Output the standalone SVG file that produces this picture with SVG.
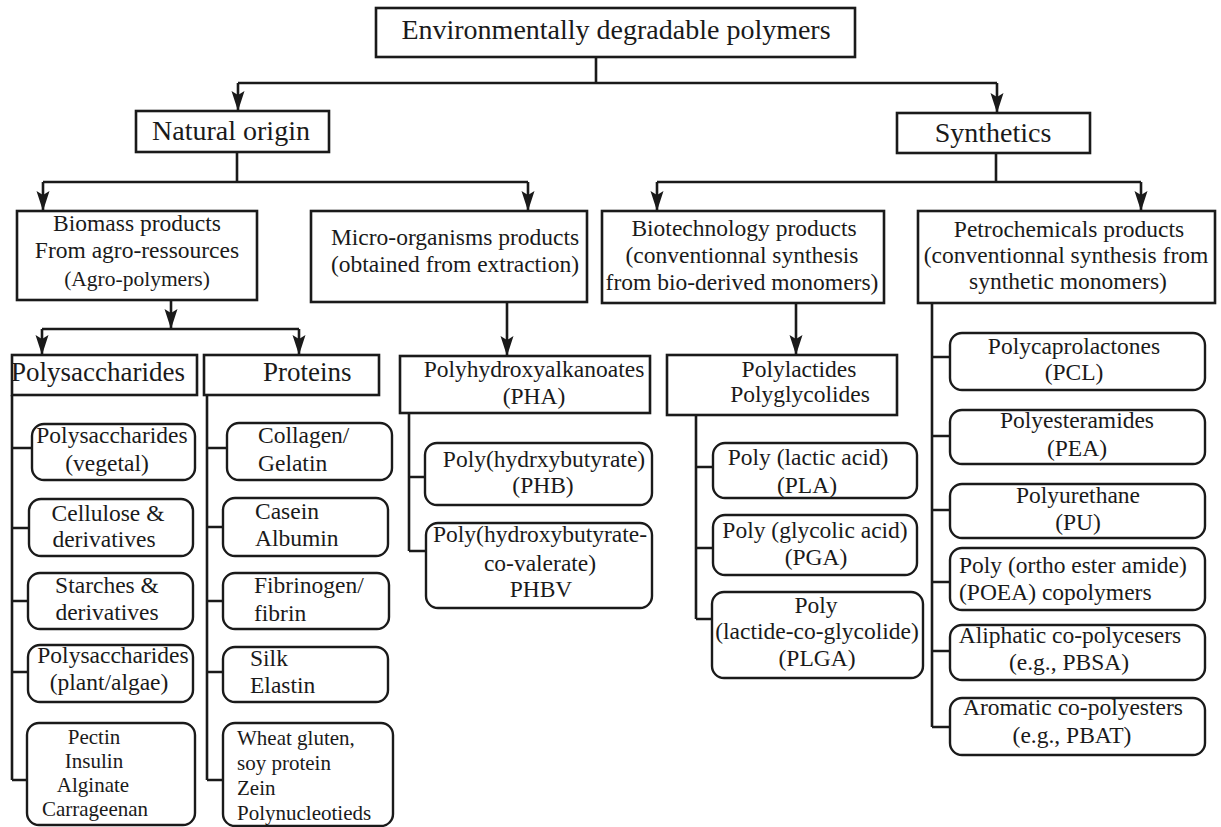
<svg xmlns="http://www.w3.org/2000/svg" width="1221" height="827" viewBox="0 0 1221 827">
<style>
.bx{fill:#fff;stroke:#1a1a1a;stroke-width:2.6}
.rb{fill:#fff;stroke:#1a1a1a;stroke-width:2.4}
.ln{fill:none;stroke:#1a1a1a;stroke-width:2.6}
text{font-family:"Liberation Serif","Times New Roman",serif;fill:#1a1a1a;font-size:23.5px;text-anchor:middle}
.h{font-size:28px}
.h2{font-size:27px}
.s{font-size:21.5px}
.t{font-size:21px}
.l{text-anchor:start}
</style>
<defs>
<marker id="ah" markerUnits="userSpaceOnUse" markerWidth="22" markerHeight="16" viewBox="-21 -8 22 16" refX="0" refY="0" orient="auto">
<path d="M0,0 L-20,-6.5 L-16,0 L-20,6.5 Z" fill="#1a1a1a"/>
</marker>
</defs>
<g id="connectors">
<path class="ln" d="M596,57 V83 M238,83 H997"/>
<path class="ln" d="M238,83 V111" marker-end="url(#ah)"/>
<path class="ln" d="M997,83 V113" marker-end="url(#ah)"/>
<path class="ln" d="M237,152 V182 M43,182 H528"/>
<path class="ln" d="M43,182 V211" marker-end="url(#ah)"/>
<path class="ln" d="M528,182 V211" marker-end="url(#ah)"/>
<path class="ln" d="M996,153 V182 M657,182 H1141"/>
<path class="ln" d="M657,182 V211" marker-end="url(#ah)"/>
<path class="ln" d="M1141,182 V211" marker-end="url(#ah)"/>
<path class="ln" d="M171,300 V329" marker-end="url(#ah)"/>
<path class="ln" d="M42,329 H299"/>
<path class="ln" d="M42,329 V355" marker-end="url(#ah)"/>
<path class="ln" d="M299,329 V355" marker-end="url(#ah)"/>
<path class="ln" d="M507,302 V356" marker-end="url(#ah)"/>
<path class="ln" d="M796,303 V355" marker-end="url(#ah)"/>
<path class="ln" d="M12,395 V780 M12,448 H32 M12,528 H29 M12,601 H28 M12,672 H28 M12,780 H27"/>
<path class="ln" d="M207,395 V780 M207,448 H227 M207,527 H223 M207,601 H223 M207,672 H223 M207,780 H223"/>
<path class="ln" d="M409,413 V551 M409,477 H425 M409,551 H426"/>
<path class="ln" d="M696,415 V619 M696,467 H713 M696,548 H713 M696,619 H712"/>
<path class="ln" d="M932,303 V727 M932,357 H950 M932,436 H950 M932,510 H950 M932,582 H950 M932,651 H950 M932,727 H950"/>
</g>
<g id="root"><rect class="bx" x="376" y="8" width="479" height="49"/><text class="h" x="616" y="39">Environmentally degradable polymers</text></g>
<g id="natural"><rect class="bx" x="136" y="111" width="193" height="41"/><text class="h" x="231" y="140">Natural origin</text></g>
<g id="synthetics"><rect class="bx" x="897" y="113" width="193" height="40"/><text class="h" x="993" y="142">Synthetics</text></g>
<g id="biomass"><rect class="bx" x="17" y="211" width="240" height="89"/><text x="137" y="231">Biomass products</text><text x="137" y="258">From agro-ressources</text><text class="s" x="137" y="286">(Agro-polymers)</text></g>
<g id="micro"><rect class="bx" x="311" y="211" width="276" height="91"/><text x="455" y="245">Micro-organisms products</text><text x="455" y="272">(obtained from extraction)</text></g>
<g id="biotech"><rect class="bx" x="602" y="211" width="282" height="92"/><text x="744" y="236">Biotechnology products</text><text x="742" y="263">(conventionnal synthesis</text><text x="742" y="290">from bio-derived monomers)</text></g>
<g id="petro"><rect class="bx" x="918" y="211" width="297" height="92"/><text x="1069" y="237">Petrochemicals products</text><text x="1066" y="263">(conventionnal synthesis from</text><text x="1068" y="289">synthetic monomers)</text></g>
<g id="polysaccharides"><rect class="bx" x="12" y="355" width="185" height="40"/><text class="h2 l" x="11" y="381">Polysaccharides</text></g>
<g id="proteins"><rect class="bx" x="204" y="355" width="175" height="40"/><text class="h2 l" x="263" y="381">Proteins</text></g>
<g id="pha"><rect class="bx" x="400" y="356" width="250" height="57"/><text x="534" y="377">Polyhydroxyalkanoates</text><text x="534" y="404">(PHA)</text></g>
<g id="polylactides"><rect class="bx" x="667" y="355" width="230" height="60"/><text x="799" y="377">Polylactides</text><text x="800" y="402">Polyglycolides</text></g>
<g id="ps-vegetal"><rect class="rb" x="32" y="424" width="163" height="56" rx="12"/><text x="112" y="443">Polysaccharides</text><text x="107" y="471">(vegetal)</text></g>
<g id="ps-cellulose"><rect class="rb" x="29" y="499" width="164" height="57" rx="12"/><text x="108" y="521">Cellulose &amp;</text><text x="104" y="547">derivatives</text></g>
<g id="ps-starches"><rect class="rb" x="28" y="573" width="165" height="56" rx="12"/><text x="107" y="593">Starches &amp;</text><text x="107" y="620">derivatives</text></g>
<g id="ps-plant"><rect class="rb" x="28" y="645" width="165" height="57" rx="12"/><text x="113" y="663">Polysaccharides</text><text x="109" y="690">(plant/algae)</text></g>
<g id="ps-pectin"><rect class="rb" x="27" y="723" width="168" height="102" rx="12"/><text class="t" x="94" y="744">Pectin</text><text class="t" x="94" y="768">Insulin</text><text class="t" x="93" y="792">Alginate</text><text class="t" x="95" y="816">Carrageenan</text></g>
<g id="pr-collagen"><rect class="rb" x="227" y="423" width="165" height="57" rx="12"/><text class="l" x="258" y="443">Collagen/</text><text class="l" x="258" y="471">Gelatin</text></g>
<g id="pr-casein"><rect class="rb" x="223" y="498" width="165" height="58" rx="12"/><text class="l" x="255" y="519">Casein</text><text class="l" x="255" y="546">Albumin</text></g>
<g id="pr-fibrinogen"><rect class="rb" x="223" y="573" width="166" height="56" rx="12"/><text class="l" x="254" y="593">Fibrinogen/</text><text class="l" x="254" y="621">fibrin</text></g>
<g id="pr-silk"><rect class="rb" x="223" y="647" width="165" height="55" rx="12"/><text class="l" x="250" y="666">Silk</text><text class="l" x="250" y="693">Elastin</text></g>
<g id="pr-wheat"><rect class="rb" x="223" y="723" width="170" height="103" rx="12"/><text class="t l" x="237" y="745">Wheat gluten,</text><text class="t l" x="237" y="770">soy protein</text><text class="t l" x="237" y="795">Zein</text><text class="t l" x="237" y="820">Polynucleotieds</text></g>
<g id="phb"><rect class="rb" x="425" y="443" width="227" height="62" rx="12"/><text x="544" y="467">Poly(hydrxybutyrate)</text><text x="543" y="493">(PHB)</text></g>
<g id="phbv"><rect class="rb" x="426" y="523" width="226" height="85" rx="12"/><text x="540" y="542">Poly(hydroxybutyrate-</text><text x="540" y="571">co-valerate)</text><text x="541" y="597">PHBV</text></g>
<g id="pla"><rect class="rb" x="713" y="443" width="204" height="55" rx="12"/><text x="808" y="465">Poly (lactic acid)</text><text x="807" y="493">(PLA)</text></g>
<g id="pga"><rect class="rb" x="713" y="515" width="204" height="60" rx="12"/><text x="815" y="538">Poly (glycolic acid)</text><text x="816" y="565">(PGA)</text></g>
<g id="plga"><rect class="rb" x="712" y="592" width="211" height="86" rx="12"/><text x="816" y="613">Poly</text><text x="817" y="639">(lactide-co-glycolide)</text><text x="817" y="666">(PLGA)</text></g>
<g id="pcl"><rect class="rb" x="950" y="333" width="255" height="57" rx="12"/><text x="1074" y="354">Polycaprolactones</text><text x="1074" y="380">(PCL)</text></g>
<g id="pea"><rect class="rb" x="950" y="410" width="255" height="54" rx="12"/><text x="1077" y="428">Polyesteramides</text><text x="1077" y="456">(PEA)</text></g>
<g id="pu"><rect class="rb" x="950" y="484" width="255" height="54" rx="12"/><text x="1078" y="503">Polyurethane</text><text x="1078" y="530">(PU)</text></g>
<g id="poea"><rect class="rb" x="950" y="548" width="255" height="62" rx="12"/><text class="l" x="959" y="573">Poly (ortho ester amide)</text><text class="l" x="959" y="600">(POEA) copolymers</text></g>
<g id="aliphatic"><rect class="rb" x="950" y="625" width="255" height="55" rx="12"/><text x="1070" y="643">Aliphatic co-polycesers</text><text x="1069" y="670">(e.g., PBSA)</text></g>
<g id="aromatic"><rect class="rb" x="950" y="698" width="255" height="57" rx="12"/><text x="1073" y="715">Aromatic co-polyesters</text><text x="1072" y="743">(e.g., PBAT)</text></g>
</svg>
